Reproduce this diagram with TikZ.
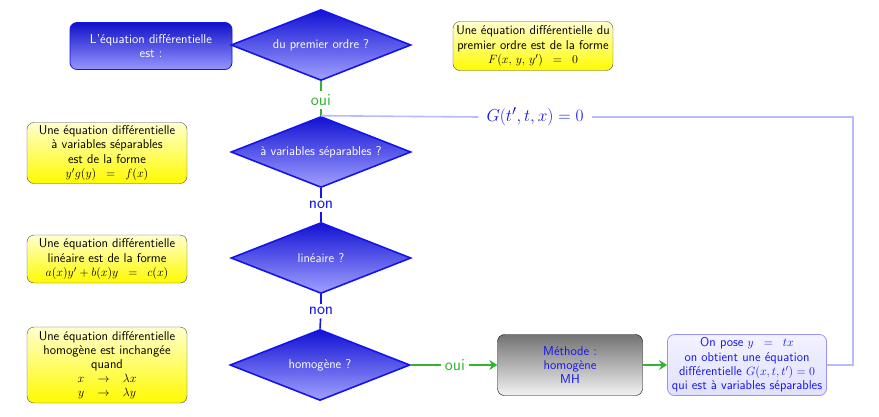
\documentclass[tikz,border=0pt]{standalone}
\usepackage{amsmath}
\usetikzlibrary{shapes.geometric,arrows.meta}
\definecolor{dblue}{RGB}{20,20,235}
\definecolor{lblue}{RGB}{150,150,255}
\definecolor{pale}{RGB}{185,185,255}
\definecolor{ogreen}{RGB}{50,180,50}
\definecolor{yel}{RGB}{255,250,0}
\definecolor{yelt}{RGB}{255,255,205}
\tikzset{
  txt/.style={font=\sffamily\fontsize{12.8}{14.4}\selectfont, align=center},
  startbox/.style={txt, rounded corners=7pt, draw=dblue, thick, top color=dblue!85!black, bottom color=lblue, text=white, minimum width=162pt, minimum height=47pt},
  decision/.style={txt, diamond, draw=dblue, line width=1.6pt, top color=dblue!90!black, bottom color=lblue!90!white, text=white, minimum width=180pt, minimum height=71pt, shape aspect=2.5, inner sep=0pt},
  infobox/.style={txt, rounded corners=7pt, draw=black!70, thin, top color=yelt, bottom color=yel, text=black, minimum width=160pt, inner sep=1pt},
  graybox/.style={txt, rounded corners=7pt, draw=black, thin, top color=black!55, bottom color=black!5, text=dblue, minimum width=145pt, minimum height=61pt},
  lightbox/.style={txt, rounded corners=7pt, draw=pale!80!blue, thick, top color=blue!5, bottom color=blue!12, text=dblue, minimum width=159pt, minimum height=61pt, inner sep=0pt},
  lab/.style={font=\sffamily\fontsize{17}{18}\selectfont},
  bl/.style={draw=dblue, line width=1.6pt},
  gl/.style={draw=ogreen, line width=1.8pt},
  garrow/.style={gl, -{Stealth[length=8pt,width=10pt]}},
  pl/.style={draw=pale, line width=1.6pt}
}
\begin{document}
\begin{tikzpicture}[x=1pt,y=-1pt]
\useasboundingbox (0,0) rectangle (879,416);
\node[startbox] (start) at (151,46) {L'équation différentielle\\est :};
\node[decision] (d1) at (321,45) {du premier ordre ?};
\node[infobox, minimum height=49pt] (i1) at (533,46) {Une équation différentielle du\\premier ordre est de la forme\\$F(x,\,y,\,y')\;\;=\;\;0$};
\node[lab, text=ogreen] (oui1) at (321,100) {oui};
\node[decision] (d2) at (321,152) {à variables séparables ?};
\node[lab, text=dblue] (non1) at (321,205) {non};
\node[decision] (d3) at (321,258) {linéaire ?};
\node[lab, text=dblue] (non2) at (321,311) {non};
\node[decision] (d4) at (320,365) {homogène ?};
\node[infobox, minimum height=61pt] (i2) at (107,153) {Une équation différentielle\\à variables séparables\\est de la forme\\$y'g(y)\;\;=\;\;f(x)$};
\node[infobox, minimum height=48pt] (i3) at (107,259) {Une équation différentielle\\linéaire est de la forme\\$a(x)y'+b(x)y\;\;=\;\;c(x)$};
\node[infobox, minimum height=76pt, inner sep=0pt, font=\sffamily\fontsize{12.8}{14}\selectfont] (i4) at (107,365) {Une équation différentielle\\homogène est inchangée\\quand\\$x\;\;\;\to\;\;\;\lambda x$\\$y\;\;\;\to\;\;\;\lambda y$};
\node[lab, text=ogreen] (oui2) at (455,365) {oui};
\node[graybox] (mh) at (570,365) {Méthode :\\homogène\\MH};
\node[lightbox] (pose) at (747,365) {On pose $y\;\;=\;\;tx$\\on obtient une équation\\différentielle $G(x,t,t')=0$\\qui est à variables séparables};
\coordinate (c1) at (853,365);
\coordinate (c2) at (853,117);
\node[font=\fontsize{19}{21}\selectfont, text=dblue, fill=white, inner xsep=8pt] (G) at (535,117) {$G(t',t,x)=0$};
% connectors
\draw[bl] (start) -- (d1);
\draw[gl] (d1.south) -- (oui1);
\draw[gl] (oui1) -- (d2.north);
\draw[bl] (d2.south) -- (non1);
\draw[bl] (non1) -- (d3.north);
\draw[bl] (d3.south) -- (non2);
\draw[bl] (non2) -- (d4.north);
\draw[gl] (d4.east) -- (oui2);
\draw[garrow] (oui2) -- (mh);
\draw[garrow] (mh) -- (pose);
\draw[pl] (pose.east) -- (c1) -- (c2) -- (G.east);
\draw[pl] (G.west) -- (d2.north);
\end{tikzpicture}
\end{document}
